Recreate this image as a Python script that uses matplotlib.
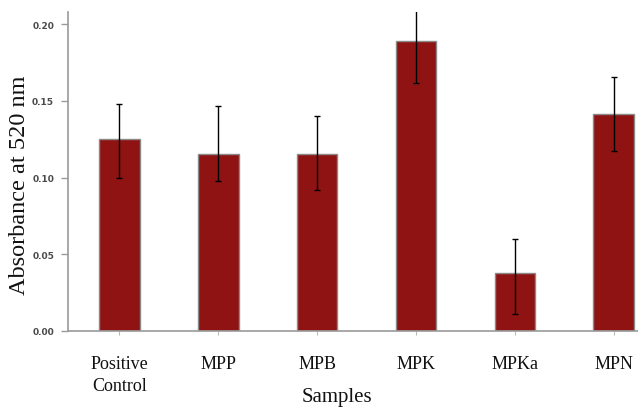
import matplotlib
matplotlib.use("Agg")
import matplotlib.pyplot as plt
import numpy as np

categories = ["Positive\nControl", "MPP", "MPB", "MPK", "MPKa", "MPN"]
means = [0.1253, 0.1151, 0.1151, 0.1891, 0.0378, 0.1414]
err_lower = [0.0258, 0.0174, 0.0234, 0.0275, 0.0265, 0.0239]
err_upper = [0.0226, 0.0315, 0.0250, 0.0275, 0.0219, 0.0245]
yticks = [0.00, 0.05, 0.10, 0.15, 0.20]

fig = plt.figure(figsize=(6.38, 4.10), dpi=100)
ax = fig.add_axes([68/638, 78/410, 570/638, 319/410])

x = np.arange(len(categories))
ax.bar(x, means, width=0.41, color="#8f1313", edgecolor="#8a8a8a", linewidth=1.0, zorder=2)
ax.errorbar(x, means, yerr=[err_lower, err_upper], fmt="none", ecolor="black",
            elinewidth=1.0, capsize=2, capthick=1.0, zorder=3)

ax.set_xlim(-0.521, 5.246)
ax.set_ylim(0, 0.208)

for s in ["top", "right"]:
    ax.spines[s].set_visible(False)
for s in ["left", "bottom"]:
    ax.spines[s].set_color("#9a9a9a")
    ax.spines[s].set_linewidth(1.2)

ax.set_yticks(yticks)
ax.set_yticklabels([f"{v:.2f}" for v in yticks], fontfamily="DejaVu Sans",
                   fontweight="bold", fontsize=6.5, color="#4a4a4a")
ax.tick_params(axis="y", length=5, width=1, color="#9a9a9a", pad=5)

ax.set_xticks(x)
ax.set_xticklabels(categories, fontfamily="Liberation Serif", fontsize=13,
                   color="#111111", linespacing=1.45)
ax.tick_params(axis="x", length=3, width=0.8, color="#bbbbbb", pad=14)

ax.set_ylabel("Absorbance at 520 nm", fontfamily="Liberation Serif", fontsize=17.5,
              color="#111111", va="center")
ax.yaxis.set_label_coords((20 - 68) / 570, (332 - 185) / 319)
ax.set_xlabel("Samples", fontfamily="Liberation Serif", fontsize=15,
              color="#111111", va="center")
ax.xaxis.set_label_coords((337 - 68) / 570, (332 - 398) / 319)

fig.savefig("out.png", dpi=100)
